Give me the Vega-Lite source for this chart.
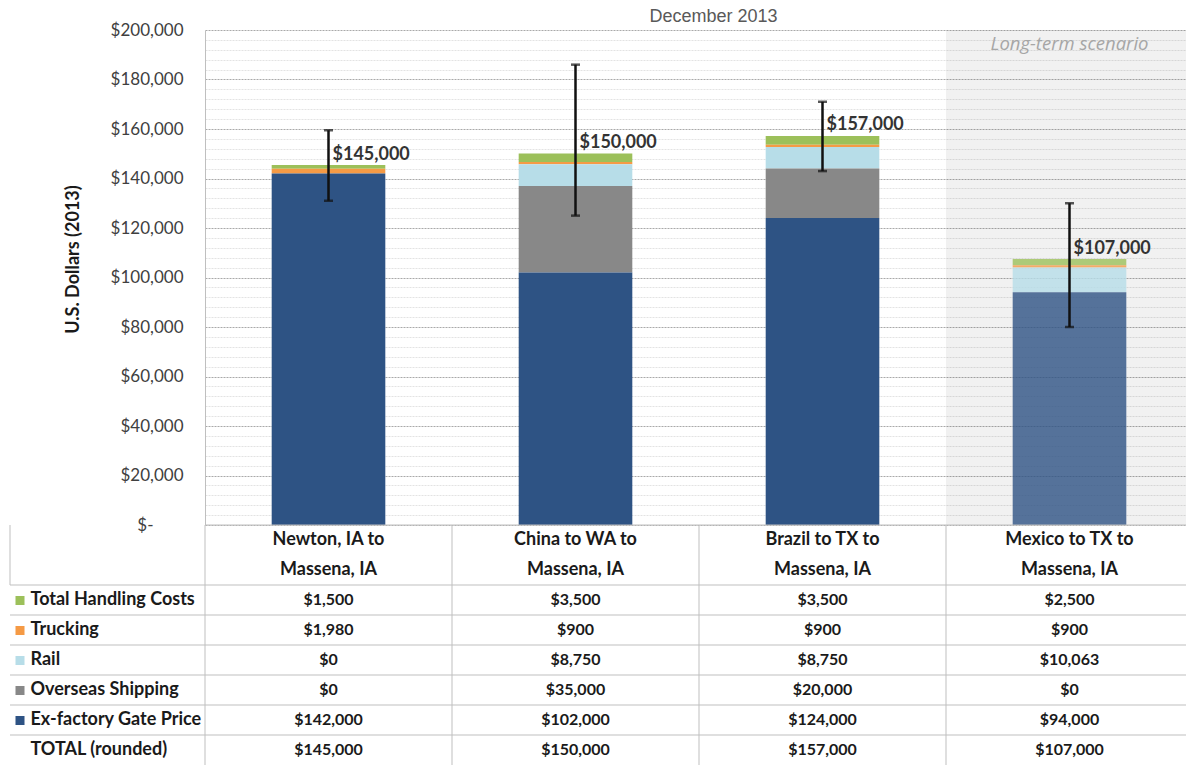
{
  "$schema": "https://vega.github.io/schema/vega-lite/v6.json",
  "padding": {"left": 5, "top": 8, "right": 0, "bottom": 1},
  "background": "white",
  "config": {"view": {"stroke": null}, "font": "Lato"},
  "datasets": {
    "costs": [
      {"route": "Newton, IA to Massena, IA", "component": "Total Handling Costs", "value": 1500},
      {"route": "Newton, IA to Massena, IA", "component": "Trucking", "value": 1980},
      {"route": "Newton, IA to Massena, IA", "component": "Rail", "value": 0},
      {"route": "Newton, IA to Massena, IA", "component": "Overseas Shipping", "value": 0},
      {"route": "Newton, IA to Massena, IA", "component": "Ex-factory Gate Price", "value": 142000},
      {"route": "China to WA to Massena, IA", "component": "Total Handling Costs", "value": 3500},
      {"route": "China to WA to Massena, IA", "component": "Trucking", "value": 900},
      {"route": "China to WA to Massena, IA", "component": "Rail", "value": 8750},
      {"route": "China to WA to Massena, IA", "component": "Overseas Shipping", "value": 35000},
      {"route": "China to WA to Massena, IA", "component": "Ex-factory Gate Price", "value": 102000},
      {"route": "Brazil to TX to Massena, IA", "component": "Total Handling Costs", "value": 3500},
      {"route": "Brazil to TX to Massena, IA", "component": "Trucking", "value": 900},
      {"route": "Brazil to TX to Massena, IA", "component": "Rail", "value": 8750},
      {"route": "Brazil to TX to Massena, IA", "component": "Overseas Shipping", "value": 20000},
      {"route": "Brazil to TX to Massena, IA", "component": "Ex-factory Gate Price", "value": 124000},
      {"route": "Mexico to TX to Massena, IA", "component": "Total Handling Costs", "value": 2500},
      {"route": "Mexico to TX to Massena, IA", "component": "Trucking", "value": 900},
      {"route": "Mexico to TX to Massena, IA", "component": "Rail", "value": 10063},
      {"route": "Mexico to TX to Massena, IA", "component": "Overseas Shipping", "value": 0},
      {"route": "Mexico to TX to Massena, IA", "component": "Ex-factory Gate Price", "value": 94000}
    ],
    "routes": [
      {"route": "Newton, IA to Massena, IA", "h1": "Newton, IA to", "h2": "Massena, IA", "total": 145000, "lo": 131000, "hi": 159500},
      {"route": "China to WA to Massena, IA", "h1": "China to WA to", "h2": "Massena, IA", "total": 150000, "lo": 125000, "hi": 186000},
      {"route": "Brazil to TX to Massena, IA", "h1": "Brazil to TX to", "h2": "Massena, IA", "total": 157000, "lo": 143000, "hi": 171000},
      {"route": "Mexico to TX to Massena, IA", "h1": "Mexico to TX to", "h2": "Massena, IA", "total": 107000, "lo": 80000, "hi": 130000}
    ],
    "rows": [
      {"row": "h1"},
      {"row": "Total Handling Costs"},
      {"row": "Trucking"},
      {"row": "Rail"},
      {"row": "Overseas Shipping"},
      {"row": "Ex-factory Gate Price"},
      {"row": "TOTAL (rounded)"}
    ],
    "labelrows": [
      {"row": "Total Handling Costs"},
      {"row": "Trucking"},
      {"row": "Rail"},
      {"row": "Overseas Shipping"},
      {"row": "Ex-factory Gate Price"},
      {"row": "TOTAL (rounded)"}
    ]
  },
  "columns": 2,
  "spacing": 0,
  "bounds": "flush",
  "concat": [
    {
      "width": 195,
      "height": 495,
      "data": {"values": [{}]},
      "mark": {"type": "text"},
      "encoding": {"text": {"value": ""}}
    },
    {
      "width": 981,
      "height": 495,
      "title": {"text": "December 2013", "anchor": "middle", "font": "Liberation Sans", "fontSize": 18, "fontWeight": "normal", "color": "#595959", "offset": -5, "dx": 18},
      "encoding": {
        "x": {"field": "route", "type": "nominal", "axis": null,
              "scale": {"domain": ["Newton, IA to Massena, IA", "China to WA to Massena, IA", "Brazil to TX to Massena, IA", "Mexico to TX to Massena, IA"], "range": [0, 988], "paddingInner": 0, "paddingOuter": 0}}
      },
      "layer": [
        {
          "data": {"name": "routes"},
          "transform": [{"filter": "datum.route === 'Mexico to TX to Massena, IA'"}],
          "mark": {"type": "rect", "color": "#000000", "opacity": 0.055}
        },
        {
          "data": {"name": "costs"},
          "transform": [{"calculate": "indexof(['Ex-factory Gate Price','Overseas Shipping','Rail','Trucking','Total Handling Costs'], datum.component)", "as": "ord"}],
          "mark": {"type": "bar", "width": {"band": 0.46}},
          "encoding": {
            "y": {"field": "value", "type": "quantitative", "stack": "zero",
                  "scale": {"domain": [0, 200000], "nice": false},
                  "axis": {
                    "title": "U.S. Dollars (2013)",
                    "titleFont": "Lato", "titleFontSize": 18, "titleFontWeight": "bold", "titleColor": "#1a1a1a", "titlePadding": 28, "titleY": 229,
                    "values": [0,4000,8000,12000,16000,20000,24000,28000,32000,36000,40000,44000,48000,52000,56000,60000,64000,68000,72000,76000,80000,84000,88000,92000,96000,100000,104000,108000,112000,116000,120000,124000,128000,132000,136000,140000,144000,148000,152000,156000,160000,164000,168000,172000,176000,180000,184000,188000,192000,196000,200000],
                    "tickCount": 200,
                    "labelExpr": "datum.value % 20000 !== 0 ? '' : (datum.value === 0 ? '$-' : '$' + format(datum.value, ','))",
                    "labelFont": "Lato", "labelFontSize": 17, "labelColor": "#404040",
                    "labelPadding": {"condition": {"test": "datum.value === 0", "value": 52}, "value": 22},
                    "labelOverlap": false, "labelBound": false, "labelFlush": false,
                    "ticks": false,
                    "domain": true, "domainColor": "#bfbfbf", "domainWidth": 1,
                    "grid": true,
                    "gridColor": {"condition": {"test": "datum.value % 20000 === 0", "value": "#a9a9a9"}, "value": "#e3e3e3"},
                    "gridDash": [2, 1],
                    "gridWidth": 1
                  }},
            "color": {"field": "component", "type": "nominal", "legend": null,
                      "scale": {"domain": ["Total Handling Costs", "Trucking", "Rail", "Overseas Shipping", "Ex-factory Gate Price"],
                                "range": ["#9cc05a", "#f59a45", "#b7dde8", "#888888", "#2e5384"]}},
            "order": {"field": "ord", "type": "quantitative"},
            "opacity": {"condition": {"test": "datum.route === 'Mexico to TX to Massena, IA'", "value": 0.8}, "value": 1}
          }
        },
        {
          "data": {"name": "routes"},
          "mark": {"type": "rule", "color": "#111111", "strokeWidth": 2.5},
          "encoding": {"y": {"field": "lo", "type": "quantitative"}, "y2": {"field": "hi"}}
        },
        {
          "data": {"name": "routes"},
          "mark": {"type": "tick", "color": "#111111", "thickness": 2.5, "size": 9},
          "encoding": {"y": {"field": "hi", "type": "quantitative"}}
        },
        {
          "data": {"name": "routes"},
          "mark": {"type": "tick", "color": "#111111", "thickness": 2.5, "size": 9},
          "encoding": {"y": {"field": "lo", "type": "quantitative"}}
        },
        {
          "data": {"name": "routes"},
          "mark": {"type": "text", "align": "left", "baseline": "bottom", "dx": 4, "dy": -2, "font": "Lato", "fontSize": 18, "fontWeight": "bold", "color": "#333333"},
          "encoding": {"y": {"field": "total", "type": "quantitative"}, "text": {"field": "total", "type": "quantitative", "format": "$,.0f"}}
        },
        {
          "data": {"name": "routes"},
          "transform": [{"filter": "datum.route === 'Mexico to TX to Massena, IA'"}],
          "mark": {"type": "text", "baseline": "top", "dy": 5, "font": "Open Sans", "fontSize": 18.5, "fontStyle": "italic", "color": "#a6a6a6"},
          "encoding": {"y": {"datum": 200000, "type": "quantitative"}, "text": {"value": "Long-term scenario"}}
        }
      ]
    },
    {
      "width": 195,
      "height": 240,
      "encoding": {
        "y": {"field": "row", "type": "nominal",
              "scale": {"domain": ["h1", "h2", "Total Handling Costs", "Trucking", "Rail", "Overseas Shipping", "Ex-factory Gate Price", "TOTAL (rounded)"], "paddingInner": 0, "paddingOuter": 0},
              "axis": {
                "orient": "right", "offset": -195, "title": null, "domain": false, "grid": false,
                "ticks": true, "tickSize": 14, "tickWidth": 9, "tickDash": [0, 5, 9, 40], "tickCap": "butt",
                "tickColor": {"condition": [
                  {"test": "datum.value === 'Total Handling Costs'", "value": "#9cc05a"},
                  {"test": "datum.value === 'Trucking'", "value": "#f59a45"},
                  {"test": "datum.value === 'Rail'", "value": "#b7dde8"},
                  {"test": "datum.value === 'Overseas Shipping'", "value": "#888888"},
                  {"test": "datum.value === 'Ex-factory Gate Price'", "value": "#2e5384"}
                ], "value": "transparent"},
                "labelAlign": "left", "labelPadding": 6, "labelFont": "Lato", "labelFontSize": 18, "labelFontWeight": "bold", "labelColor": "#1a1a1a",
                "labelExpr": "datum.value === 'h1' || datum.value === 'h2' ? '' : datum.value",
                "labelLimit": 250, "labelOverlap": false, "labelBound": false
              }}
      },
      "layer": [
        {
          "data": {"name": "labelrows"},
          "mark": {"type": "rule", "color": "#bfbfbf", "strokeWidth": 1},
          "encoding": {"y": {"field": "row", "type": "nominal", "bandPosition": 0}}
        },
        {
          "data": {"values": [{"row": "Total Handling Costs"}]},
          "mark": {"type": "rule", "color": "#bfbfbf", "strokeWidth": 1},
          "encoding": {
            "x": {"datum": 0, "type": "quantitative", "scale": {"domain": [0, 1]}, "axis": null},
            "y": {"field": "row", "type": "nominal", "bandPosition": 0},
            "y2": {"value": {"expr": "height"}}
          }
        }
      ]
    },
    {
      "width": 981,
      "height": 240,
      "encoding": {
        "x": {"field": "route", "type": "nominal", "axis": null,
              "scale": {"domain": ["Newton, IA to Massena, IA", "China to WA to Massena, IA", "Brazil to TX to Massena, IA", "Mexico to TX to Massena, IA"], "range": [0, 988], "paddingInner": 0, "paddingOuter": 0}}
      },
      "layer": [
        {
          "data": {"name": "rows"},
          "mark": {"type": "rule", "color": "#bfbfbf", "strokeWidth": 1},
          "encoding": {"x": null, "y": {"field": "row", "type": "nominal", "bandPosition": 0, "axis": null,
              "scale": {"domain": ["h1", "h2", "Total Handling Costs", "Trucking", "Rail", "Overseas Shipping", "Ex-factory Gate Price", "TOTAL (rounded)"], "paddingInner": 0, "paddingOuter": 0}}}
        },
        {
          "data": {"name": "routes"},
          "mark": {"type": "rule", "color": "#bfbfbf", "strokeWidth": 1},
          "encoding": {"x": {"field": "route", "type": "nominal", "bandPosition": 0}}
        },
        {
          "data": {"name": "costs"},
          "mark": {"type": "text", "font": "Lato", "fontSize": 16, "fontWeight": "bold", "color": "#1a1a1a"},
          "encoding": {"y": {"field": "component", "type": "nominal"}, "text": {"field": "value", "type": "quantitative", "format": "$,.0f"}}
        },
        {
          "data": {"name": "routes"},
          "mark": {"type": "text", "font": "Lato", "fontSize": 18, "fontWeight": "bold", "color": "#1a1a1a"},
          "encoding": {"y": {"datum": "h1"}, "text": {"field": "h1"}}
        },
        {
          "data": {"name": "routes"},
          "mark": {"type": "text", "font": "Lato", "fontSize": 18, "fontWeight": "bold", "color": "#1a1a1a"},
          "encoding": {"y": {"datum": "h2"}, "text": {"field": "h2"}}
        },
        {
          "data": {"name": "routes"},
          "mark": {"type": "text", "font": "Lato", "fontSize": 16, "fontWeight": "bold", "color": "#1a1a1a"},
          "encoding": {"y": {"datum": "TOTAL (rounded)"}, "text": {"field": "total", "type": "quantitative", "format": "$,.0f"}}
        }
      ]
    }
  ]
}
